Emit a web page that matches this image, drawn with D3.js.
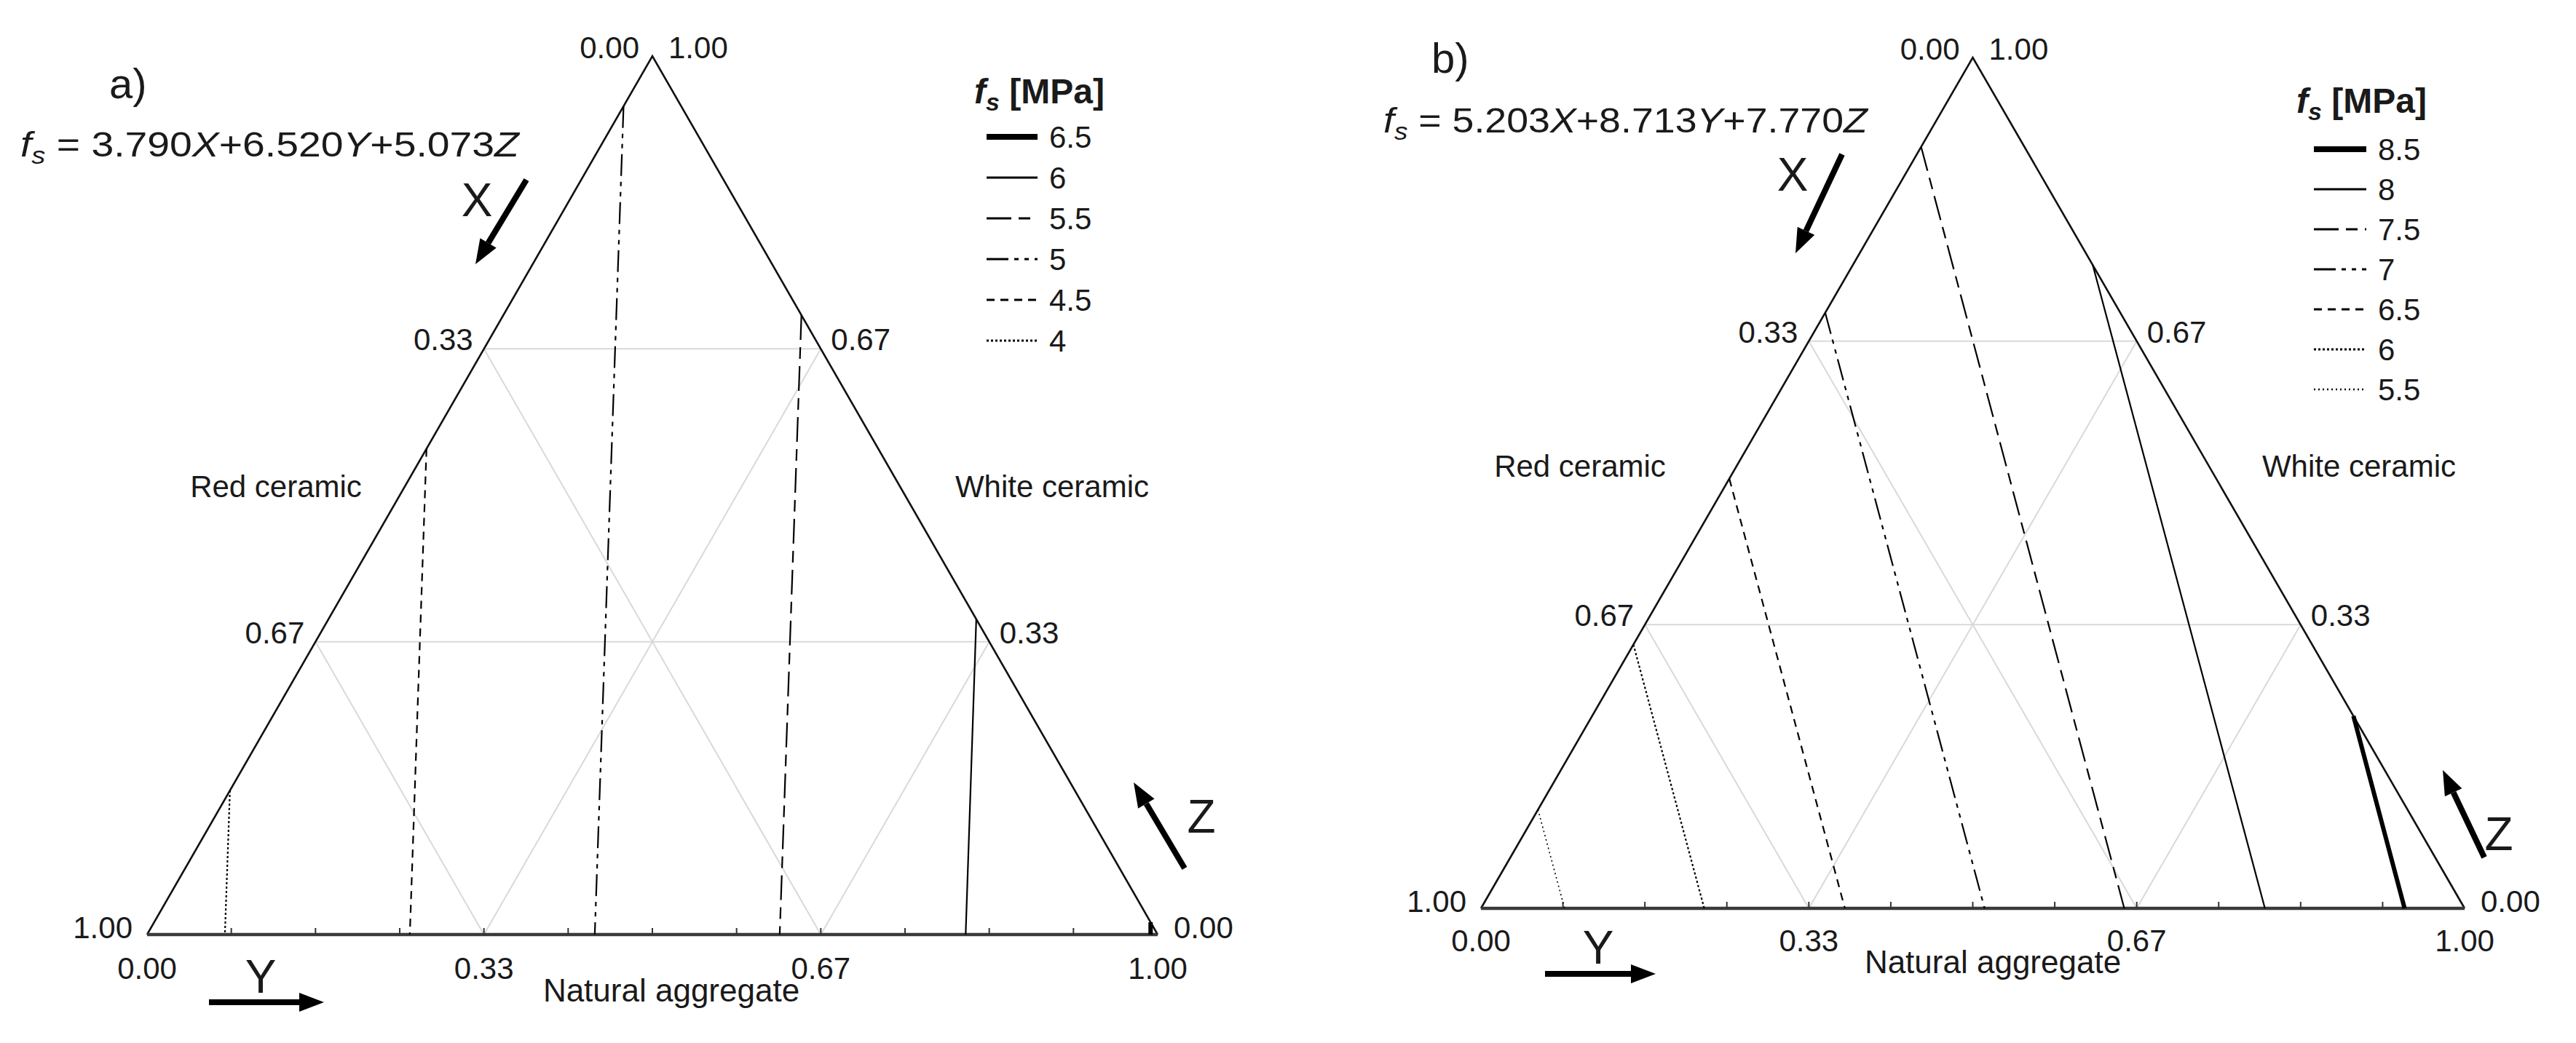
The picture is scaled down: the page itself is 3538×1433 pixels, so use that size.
<!DOCTYPE html>
<html><head><meta charset="utf-8">
<script src="https://cdn.jsdelivr.net/npm/d3@7"></script>
<style>
body{margin:0;background:#fff}
svg text{font-family:"Liberation Sans",Arial,sans-serif;fill:#1a1a1a}
</style>
</head><body>
<svg id="chart" width="3538" height="1433"></svg>
<script>
// ---------------- DATA ----------------
const panelNames = ["a)", "b)"];
const coefA = ["3.790", "6.520", "5.073"];
const coefB = ["5.203", "8.713", "7.770"];
const tickValues = [0, 1/3, 2/3, 1];
const tickLabels = ["0.00", "0.33", "0.67", "1.00"];
const minorTicks = d3.range(1, 12).map(i => i / 12);
const gridValues = [1/3, 2/3];
const axisNames = ["Red ceramic", "White ceramic", "Natural aggregate"];

// contour levels (MPa) and their end points as compositions [X, Y, Z]
const levelsA = [6.5, 6, 5.5, 5, 4.5, 4];
const startA = [[0, 0.986, 0.014], [0, 0.641, 0.359], [0, 0.295, 0.705], [0.057, 0, 0.943], [0.447, 0, 0.553], [0.836, 0, 0.164]];
const endA   = [[0.007, 0.993, 0], [0.19, 0.81, 0], [0.374, 0.626, 0], [0.557, 0.443, 0], [0.74, 0.26, 0], [0.923, 0.077, 0]];

const levelsB = [8.5, 8, 7.5, 7, 6.5, 6, 5.5];
const startB = [[0, 0.774, 0.226], [0, 0.244, 0.756], [0.105, 0, 0.895], [0.30, 0, 0.70], [0.495, 0, 0.505], [0.69, 0, 0.31], [0.884, 0, 0.116]];
const endB   = [[0.061, 0.939, 0], [0.203, 0.797, 0], [0.346, 0.654, 0], [0.488, 0.512, 0], [0.63, 0.37, 0], [0.773, 0.227, 0], [0.915, 0.085, 0]];

// line styles per legend row
const stylesA = [
  {w: 6, dash: null}, {w: 2.2, dash: null}, {w: 2.2, dash: "34,10,16,10"},
  {w: 2.2, dash: "30,8,6,8,6,8"}, {w: 2.2, dash: "11,8"}, {w: 2.2, dash: "3,3"}
];
const stylesB = [
  {w: 6, dash: null}, {w: 2.2, dash: null}, {w: 2.2, dash: "34,10,16,10"},
  {w: 2.2, dash: "30,8,6,8,6,8"}, {w: 2.2, dash: "11,8"}, {w: 2.2, dash: "3,3"}, {w: 1.6, dash: "2,4"}
];

// ---------------- LAYOUT ----------------
const panels = [
  {name: panelNames[0], coef: coefA, levels: levelsA, start: startA, end: endA, styles: stylesA,
   L: 202, R: 1590, base: 1284, top: 77,
   nameXY: [150, 135], eq: {x: 28, y: 215, w: 685},
   arrowX: [[723, 247], [653, 363]], labX: [655, 275],
   arrowY: [[287, 1377], [445, 1377]], labY: [358, 1342],
   arrowZ: [[1627, 1193], [1557, 1075]], labZ: [1650, 1122],
   redXY: [379, 668], whiteXY: [1445, 668], natXY: [922, 1376], botLab: 61,
   legend: {x: 1338, titleY: 142, rowY: 188, dy: 56, lx: 1355, lw: 70}},
  {name: panelNames[1], coef: coefB, levels: levelsB, start: startB, end: endB, styles: stylesB,
   L: 2034, R: 3385, base: 1248, top: 79,
   nameXY: [1966, 100], eq: {x: 1900, y: 182, w: 665},
   arrowX: [[2530, 212], [2466, 348]], labX: [2462, 240],
   arrowY: [[2122, 1338], [2274, 1338]], labY: [2195, 1302],
   arrowZ: [[3412, 1178], [3355, 1058]], labZ: [3432, 1146],
   redXY: [2170, 640], whiteXY: [3240, 640], natXY: [2737, 1337], botLab: 59,
   legend: {x: 3154, titleY: 155, rowY: 205, dy: 55, lx: 3178, lw: 72}}
];

const svg = d3.select("#chart");

function drawArrow(g, a, b) {
  const dx = b[0] - a[0], dy = b[1] - a[1];
  const len = Math.hypot(dx, dy), ux = dx / len, uy = dy / len;
  const hl = 34, hw = 13;
  const bx = b[0] - ux * hl, by = b[1] - uy * hl;
  g.append("line").attr("x1", a[0]).attr("y1", a[1]).attr("x2", bx).attr("y2", by)
    .attr("stroke", "#000").attr("stroke-width", 8);
  g.append("polygon")
    .attr("points", [[b[0], b[1]], [bx - uy * hw, by + ux * hw], [bx + uy * hw, by - ux * hw]].map(p => p.join(",")).join(" "))
    .attr("fill", "#000");
}

panels.forEach(p => {
  const g = svg.append("g");
  const sx = d3.scaleLinear().domain([0, 1]).range([p.L, p.R]);
  const sy = d3.scaleLinear().domain([0, 1]).range([p.base, p.top]);
  const pt = c => [sx(c[1] + c[2] / 2), sy(c[2])];   // c = [X, Y, Z]
  const line = d3.line();

  // grid
  const grid = g.append("g").attr("stroke", "#d9d9d9").attr("stroke-width", 2).attr("fill", "none");
  gridValues.forEach(v => {
    grid.append("path").attr("d", line([pt([1 - v, 0, v]), pt([0, 1 - v, v])]));
    grid.append("path").attr("d", line([pt([1 - v, v, 0]), pt([0, v, 1 - v])]));
    grid.append("path").attr("d", line([pt([v, 1 - v, 0]), pt([v, 0, 1 - v])]));
  });

  // triangle edges
  g.append("path").attr("d", line([pt([1, 0, 0]), pt([0, 0, 1]), pt([0, 1, 0])]))
    .attr("fill", "none").attr("stroke", "#111").attr("stroke-width", 2.6).attr("stroke-linejoin", "miter");
  g.append("path").attr("d", line([pt([1, 0, 0]), pt([0, 1, 0])]))
    .attr("fill", "none").attr("stroke", "#3a3a3a").attr("stroke-width", 4.5);

  // minor ticks on the base
  minorTicks.forEach(t => {
    const q = pt([1 - t, t, 0]);
    g.append("line").attr("x1", q[0]).attr("x2", q[0]).attr("y1", q[1]).attr("y2", q[1] - 9)
      .attr("stroke", "#333").attr("stroke-width", 2);
  });

  // contours
  p.levels.forEach((lv, i) => {
    const st = p.styles[i];
    g.append("path").attr("d", line([pt(p.start[i]), pt(p.end[i])]))
      .attr("fill", "none").attr("stroke", "#000").attr("stroke-width", st.w)
      .attr("stroke-dasharray", st.dash);
  });

  // tick labels
  const tl = g.append("g").attr("font-size", 42);
  tickValues.forEach((v, i) => {
    const b = pt([1 - v, v, 0]);
    tl.append("text").attr("x", b[0]).attr("y", b[1] + p.botLab).attr("text-anchor", "middle").text(tickLabels[i]);
    const l = pt([v, 0, 1 - v]);
    if (v === 0) {
      tl.append("text").attr("x", l[0] - 18).attr("y", l[1] + 3).attr("text-anchor", "end").text(tickLabels[i]);
    } else if (v === 1) {
      tl.append("text").attr("x", l[0] - 20).attr("y", l[1] + 5).attr("text-anchor", "end").text(tickLabels[i]);
    } else {
      tl.append("text").attr("x", l[0] - 15).attr("y", l[1] + 2).attr("text-anchor", "end").text(tickLabels[i]);
    }
    const r = pt([0, 1 - v, v]);
    if (v === 1) {
      tl.append("text").attr("x", r[0] + 22).attr("y", r[1] + 3).attr("text-anchor", "start").text(tickLabels[i]);
    } else if (v === 0) {
      tl.append("text").attr("x", r[0] + 22).attr("y", r[1] + 5).attr("text-anchor", "start").text(tickLabels[i]);
    } else {
      tl.append("text").attr("x", r[0] + 14).attr("y", r[1] + 2).attr("text-anchor", "start").text(tickLabels[i]);
    }
  });

  // axis names
  g.append("text").attr("x", p.redXY[0]).attr("y", p.redXY[1] + 15).attr("text-anchor", "middle").attr("font-size", 42).text(axisNames[0]);
  g.append("text").attr("x", p.whiteXY[0]).attr("y", p.whiteXY[1] + 15).attr("text-anchor", "middle").attr("font-size", 42).text(axisNames[1]);
  g.append("text").attr("x", p.natXY[0]).attr("y", p.natXY[1]).attr("text-anchor", "middle").attr("font-size", 44).text(axisNames[2]);

  // panel name
  g.append("text").attr("x", p.nameXY[0]).attr("y", p.nameXY[1]).attr("font-size", 58).text(p.name);

  // equation
  const eq = g.append("text").attr("font-size", 48).attr("x", 0).attr("y", 0);
  eq.append("tspan").attr("font-style", "italic").text("f");
  eq.append("tspan").attr("font-style", "italic").attr("font-size", 33).attr("dy", 10).text("s");
  eq.append("tspan").attr("dy", -10).text(" = " + p.coef[0]);
  eq.append("tspan").attr("font-style", "italic").text("X");
  eq.append("tspan").text("+" + p.coef[1]);
  eq.append("tspan").attr("font-style", "italic").text("Y");
  eq.append("tspan").text("+" + p.coef[2]);
  eq.append("tspan").attr("font-style", "italic").text("Z");
  const w0 = eq.node().getComputedTextLength();
  eq.attr("transform", `translate(${p.eq.x},${p.eq.y}) scale(${p.eq.w / w0},1)`);

  // arrows and component letters
  drawArrow(g, p.arrowX[0], p.arrowX[1]);
  drawArrow(g, p.arrowY[0], p.arrowY[1]);
  drawArrow(g, p.arrowZ[0], p.arrowZ[1]);
  [["X", p.labX], ["Y", p.labY], ["Z", p.labZ]].forEach(([t, xy]) => {
    g.append("text").attr("x", xy[0]).attr("y", xy[1] + 22).attr("text-anchor", "middle").attr("font-size", 64).text(t);
  });

  // legend
  const lg = g.append("g");
  const tt = lg.append("text").attr("x", p.legend.x).attr("y", p.legend.titleY).attr("font-size", 48).attr("font-weight", "bold");
  tt.append("tspan").attr("font-style", "italic").text("f");
  tt.append("tspan").attr("font-style", "italic").attr("font-size", 34).attr("dy", 10).text("s");
  tt.append("tspan").attr("dy", -10).text(" [MPa]");
  p.levels.forEach((lv, i) => {
    const y = p.legend.rowY + i * p.legend.dy;
    const st = p.styles[i];
    lg.append("line").attr("x1", p.legend.lx).attr("x2", p.legend.lx + p.legend.lw).attr("y1", y).attr("y2", y)
      .attr("stroke", "#000").attr("stroke-width", st.w === 6 ? 8 : st.w + 1).attr("stroke-dasharray", st.dash);
    lg.append("text").attr("x", p.legend.lx + p.legend.lw + 16).attr("y", y + 15).attr("font-size", 42).text(String(lv));
  });
});
</script>
</body></html>
